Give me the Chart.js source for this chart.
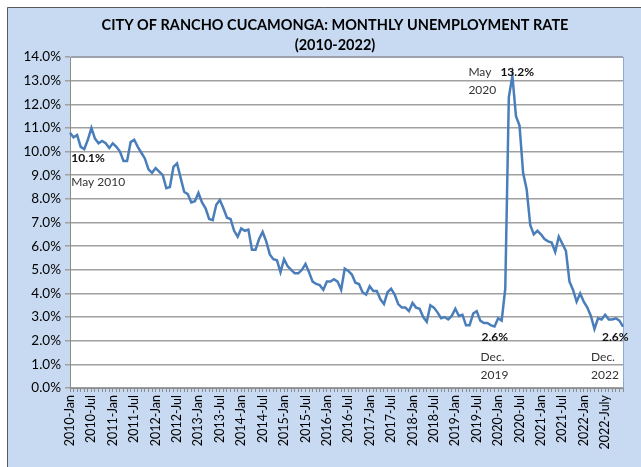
<!DOCTYPE html>
<html>
<head>
<meta charset="utf-8">
<script src="https://cdn.jsdelivr.net/npm/chart.js@4/dist/chart.umd.min.js"></script>
<style>
  html, body { margin: 0; padding: 0; background: #fff; }
</style>
</head>
<body>
<canvas id="unemploymentChart" width="641" height="467"></canvas>
<script>
const years = ['2010', '2011', '2012', '2013', '2014', '2015', '2016', '2017', '2018', '2019', '2020', '2021', '2022'];
const months = ['Jan', 'Feb', 'Mar', 'Apr', 'May', 'Jun', 'Jul', 'Aug', 'Sep', 'Oct', 'Nov', 'Dec'];

const tickLabels = [
  '2010-Jan', '2010-Jul', '2011-Jan', '2011-Jul', '2012-Jan', '2012-Jul', '2013-Jan', '2013-Jul',
  '2014-Jan', '2014-Jul', '2015-Jan', '2015-Jul', '2016-Jan', '2016-Jul', '2017-Jan', '2017-Jul',
  '2018-Jan', '2018-Jul', '2019-Jan', '2019-Jul', '2020-Jan', '2020-Jul', '2021-Jan', '2021-Jul',
  '2022-Jan', '2022-July',
];

// monthly rate in %, one row per year
const unemploymentRate = [
  10.8, 10.6, 10.7, 10.2, 10.1, 10.5, 11.0, 10.55, 10.35, 10.45, 10.35, 10.15,
  10.35, 10.2, 10.0, 9.6, 9.6, 10.4, 10.5, 10.2, 9.95, 9.7, 9.25, 9.1,
  9.3, 9.15, 9.0, 8.45, 8.5, 9.35, 9.5, 8.9, 8.3, 8.2, 7.85, 7.9,
  8.25, 7.85, 7.6, 7.15, 7.1, 7.75, 7.95, 7.6, 7.2, 7.15, 6.65, 6.4,
  6.75, 6.65, 6.7, 5.85, 5.85, 6.3, 6.6, 6.2, 5.65, 5.45, 5.4, 4.9,
  5.45, 5.15, 5.0, 4.85, 4.85, 5.0, 5.25, 4.9, 4.5, 4.4, 4.35, 4.15,
  4.5, 4.5, 4.6, 4.5, 4.15, 5.05, 4.95, 4.8, 4.45, 4.4, 4.05, 3.95,
  4.3, 4.1, 4.1, 3.75, 3.55, 4.05, 4.2, 3.95, 3.55, 3.4, 3.4, 3.25,
  3.6, 3.4, 3.35, 3.0, 2.8, 3.5, 3.4, 3.2, 2.95, 3.0, 2.9, 3.05,
  3.35, 3.05, 3.1, 2.65, 2.65, 3.15, 3.25, 2.85, 2.75, 2.75, 2.65, 2.6,
  2.95, 2.85, 4.2, 12.3, 13.2, 11.5, 11.1, 9.1, 8.4, 6.9, 6.5, 6.65,
  6.5, 6.3, 6.2, 6.15, 5.75, 6.4, 6.1, 5.8, 4.5, 4.15, 3.65, 4.0,
  3.65, 3.4, 3.05, 2.5, 2.95, 2.9, 3.1, 2.9, 2.9, 2.95, 2.85, 2.6,
];

// callouts: [category, value text, caption lines, value dx, value dy, caption dx, caption dy]
const callouts = [
  ['2010-May', '10.1%', ['May 2010'], -13, 9, -13, 33],
  ['2020-May', '13.2%', ['May', '2020'], -12, -4, -44, -4],
  ['2019-Dec', '2.6%', ['Dec.', '2019'], -13, 11, -14, 31],
  ['2022-Dec', '2.6%', ['Dec.', '2022'], -21, 11, -32, 31],
];

const categories = [];
years.forEach(y => months.forEach(m => categories.push(y + '-' + m)));

const FONT = 'Lato, "Open Sans", sans-serif';

const frame = {
  id: 'frame',
  beforeDraw(chart) {
    const ctx = chart.ctx;
    const a = chart.chartArea;
    ctx.save();
    ctx.fillStyle = '#ffffff';
    ctx.fillRect(0, 0, chart.width, chart.height);
    ctx.fillStyle = '#c8daf1';
    ctx.fillRect(7, 7, chart.width - 7, chart.height - 7);
    ctx.strokeStyle = '#595959';
    ctx.lineWidth = 1;
    ctx.beginPath();
    ctx.moveTo(7.5, chart.height);
    ctx.lineTo(7.5, 7.5);
    ctx.lineTo(chart.width, 7.5);
    ctx.stroke();
    ctx.fillStyle = '#ffffff';
    ctx.fillRect(a.left, a.top, a.right - a.left, a.bottom - a.top);
    ctx.strokeStyle = '#8eaad6';
    ctx.strokeRect(a.left + 0.5, a.top + 0.5, a.right - a.left, a.bottom - a.top);

    ctx.fillStyle = '#000';
    ctx.font = 'bold 14.5px ' + FONT;
    ctx.textAlign = 'center';
    ctx.textBaseline = 'middle';
    ctx.fillText('CITY OF RANCHO CUCAMONGA: MONTHLY UNEMPLOYMENT RATE', 335, 25);
    ctx.fillText('(2010-2022)', 335, 45);
    ctx.restore();
  },
  afterDatasetsDraw(chart) {
    const ctx = chart.ctx;
    const xs = chart.scales.x, ys = chart.scales.y;
    ctx.save();
    ctx.textAlign = 'left';
    ctx.textBaseline = 'middle';
    callouts.forEach(([cat, val, lines, dx, dy, cdx, cdy]) => {
      const i = categories.indexOf(cat);
      const px = xs.getPixelForValue(i);
      const py = ys.getPixelForValue(unemploymentRate[i]);
      ctx.fillStyle = '#111';
      ctx.font = 'bold 12px ' + FONT;
      ctx.fillText(val, px + dx, py + dy);
      ctx.font = '12px ' + FONT;
      ctx.fillStyle = '#333';
      lines.forEach((t, k) => ctx.fillText(t, px + cdx, py + cdy + k * 18));
    });
    ctx.restore();
  },
};

const config = {
  type: 'line',
  data: {
    labels: categories,
    datasets: [{
      label: 'Unemployment rate',
      data: unemploymentRate,
      borderColor: '#4a7ebb',
      borderWidth: 2.5,
      pointRadius: 0,
      tension: 0,
    }],
  },
  options: {
    responsive: false,
    animation: false,
    layout: { padding: { left: 16, right: 14, top: 57, bottom: 9 } },
    plugins: {
      legend: { display: false },
      tooltip: { enabled: false },
    },
    scales: {
      x: {
        offset: false,
        grid: { drawOnChartArea: false, drawTicks: true, tickLength: 4, color: '#8c8c8c' },
        border: { color: '#8c8c8c' },
        ticks: {
          autoSkip: false,
          maxRotation: 90,
          minRotation: 90,
          padding: 3,
          color: '#000',
          font: { family: FONT, size: 12.5 },
          callback: (v, i) => (i % 6 === 0 ? tickLabels[i / 6] : ''),
        },
        afterFit: s => { s.height = 70; },
      },
      y: {
        min: 0,
        max: 14,
        grid: { color: '#a0a0a0', lineWidth: 1.5, tickLength: 5 },
        border: { color: '#8c8c8c' },
        ticks: {
          stepSize: 1,
          padding: 4,
          color: '#000',
          font: { family: FONT, size: 13.5 },
          callback: v => v.toFixed(1) + '%',
        },
        afterFit: s => { s.width = 54; },
      },
    },
  },
  plugins: [frame],
};

const unemploymentChart = new Chart(document.getElementById('unemploymentChart'), config);
</script>
</body>
</html>
